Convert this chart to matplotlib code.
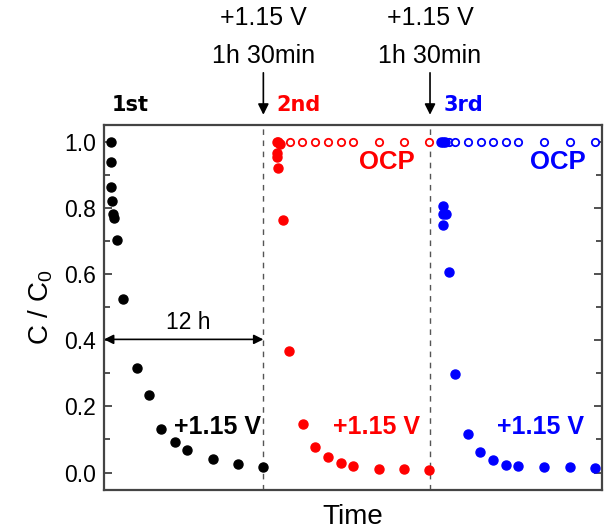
import numpy as np
import matplotlib.pyplot as plt
from matplotlib.ticker import MultipleLocator

plt.rcParams['font.family'] = ['Liberation Sans', 'DejaVu Sans']
plt.rcParams['mathtext.default'] = 'regular'

# time in hours, C/C0 values for the three runs
t1 = [0.50, 0.53, 0.53, 0.58, 0.68, 0.75, 1.00, 1.45, 2.46, 3.39, 4.29, 5.35, 6.27, 8.21, 10.11, 12.00]
c1 = [1.000, 0.940, 0.865, 0.822, 0.783, 0.770, 0.704, 0.525, 0.317, 0.234, 0.131, 0.093, 0.068, 0.040, 0.027, 0.017]

t2 = [13.05, 13.14, 13.25, 13.05, 13.05, 13.08, 13.50, 13.95, 14.96, 15.89, 16.84, 17.82, 18.77, 20.71, 22.61, 24.50]
c2 = [1.000, 1.000, 0.995, 0.967, 0.956, 0.923, 0.765, 0.368, 0.146, 0.078, 0.047, 0.030, 0.020, 0.012, 0.010, 0.009]
t2_ocp = [14.01, 14.93, 15.89, 16.84, 17.82, 18.73, 20.71, 22.61, 24.50]
c2_ocp = [1.0] * len(t2_ocp)

t3 = [25.35, 25.50, 25.68, 25.50, 25.55, 25.75, 25.55, 25.98, 26.43, 27.41, 28.34, 29.31, 30.27, 31.20, 33.13, 35.09, 36.97]
c3 = [1.000, 1.000, 1.000, 0.808, 0.782, 0.782, 0.748, 0.607, 0.297, 0.116, 0.062, 0.037, 0.024, 0.019, 0.017, 0.017, 0.015]
t3_ocp = [26.00, 26.43, 27.39, 28.37, 29.31, 30.27, 31.20, 33.13, 35.09, 36.97]
c3_ocp = [1.0] * len(t3_ocp)

switch_times = [12.0, 24.55]

red = '#ff0000'
blue = '#0000ff'

fig = plt.figure(figsize=(6.06, 5.29), dpi=100)
ax = fig.add_axes([0.1716, 0.0737, 0.8218, 0.690])

for ts in switch_times:
    ax.axvline(ts, color='#555555', lw=1, ls=(0, (4, 4)), zorder=1)

ax.plot(t2_ocp, c2_ocp, 'o', ms=5.3, mfc='white', mec=red, mew=1.3, zorder=3)
ax.plot(t3_ocp, c3_ocp, 'o', ms=5.3, mfc='white', mec=blue, mew=1.3, zorder=3)
ax.plot(t1, c1, 'o', ms=6.5, color='black', zorder=4)
ax.plot(t2, c2, 'o', ms=6.5, color=red, zorder=4)
ax.plot(t3, c3, 'o', ms=6.5, color=blue, zorder=4)

ax.set_xlim(0, 37.5)
ax.set_ylim(-0.053, 1.052)
ax.set_xticks([])
ax.yaxis.set_major_locator(MultipleLocator(0.2))
ax.yaxis.set_minor_locator(MultipleLocator(0.1))
ax.tick_params(axis='y', which='both', direction='in', left=True, right=True,
               labelsize=16.5, pad=6, color='#333333')
ax.tick_params(axis='y', which='major', length=6, width=1.2)
ax.tick_params(axis='y', which='minor', length=4, width=1.2)
for sp in ax.spines.values():
    sp.set_color('#444444')
    sp.set_linewidth(1.6)

ax.set_ylabel('C / C$_0$', fontsize=20, labelpad=6)
ax.set_xlabel('Time', fontsize=20, labelpad=10)

# 12 h span of the first run
ax.annotate('', xy=(0, 0.403), xytext=(12.0, 0.403),
            arrowprops=dict(arrowstyle='<|-|>', color='black', lw=1.2,
                            mutation_scale=14, shrinkA=0, shrinkB=0))
ax.text(6.33, 0.455, '12 h', fontsize=16.5, ha='center', va='center')

ax.text(8.58, 0.137, '+1.15 V', fontsize=18, fontweight='bold', ha='center', va='center')
ax.text(20.5, 0.137, '+1.15 V', fontsize=18, fontweight='bold', ha='center', va='center', color=red)
ax.text(32.9, 0.137, '+1.15 V', fontsize=18, fontweight='bold', ha='center', va='center', color=blue)
ax.text(21.3, 0.94, 'OCP', fontsize=18.5, fontweight='bold', ha='center', va='center', color=red)
ax.text(34.2, 0.94, 'OCP', fontsize=18.5, fontweight='bold', ha='center', va='center', color=blue)

# pulses applied between runs
for ts in switch_times:
    ax.annotate('', xy=(ts, 1.083), xytext=(ts, 1.21), annotation_clip=False,
                arrowprops=dict(arrowstyle='-|>', color='black', lw=1.2,
                                mutation_scale=16, shrinkA=0, shrinkB=0))
    ax.text(ts, 1.262, '1h 30min', fontsize=18, ha='center', va='center', clip_on=False)
    ax.text(ts, 1.375, '+1.15 V', fontsize=18, ha='center', va='center', clip_on=False)

run_font = dict(fontsize=15, fontweight='bold', family='DejaVu Sans', va='center', clip_on=False)
ax.text(0.6, 1.113, '1st', color='black', **run_font)
ax.text(13.0, 1.113, '2nd', color=red, **run_font)
ax.text(25.6, 1.113, '3rd', color=blue, **run_font)

fig.savefig('out.png', dpi=100)
